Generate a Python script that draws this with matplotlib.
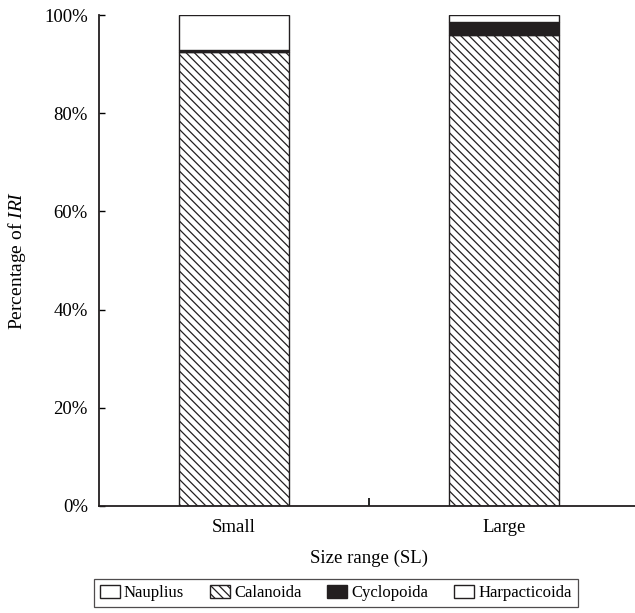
import matplotlib.pyplot as plt
from matplotlib.patches import Patch
import numpy as np

plt.rcParams['font.family'] = ['Liberation Serif', 'DejaVu Serif']
plt.rcParams['mathtext.fontset'] = 'custom'
plt.rcParams['mathtext.it'] = 'Liberation Serif:italic'
plt.rcParams['mathtext.rm'] = 'Liberation Serif'
plt.rcParams['hatch.linewidth'] = 0.9

# ------------- data (percent of IRI)
groups = ['Small', 'Large']
nauplius = [0.0, 0.0]
calanoida = [92.4, 96.0]
cyclopoida = [0.4, 2.5]
harpacticoida = [7.2, 1.5]

# ------------- figure
fig = plt.figure(figsize=(6.35, 6.13), dpi=100, facecolor='white')
ax = fig.add_axes([99 / 635, 1 - 506 / 613, 540 / 635, 491 / 613])

x = np.arange(len(groups))
w = 0.41
bottom = np.zeros(len(groups))
series = [
    (nauplius, dict(facecolor='white')),
    (calanoida, dict(facecolor='white', hatch='\\\\\\\\')),
    (cyclopoida, dict(facecolor='#231f20')),
    (harpacticoida, dict(facecolor='white')),
]
for vals, style in series:
    ax.bar(x, vals, w, bottom=bottom, edgecolor='#231f20', linewidth=1.0, **style)
    bottom += np.array(vals)

ax.set_xlim(-0.5, 1.5)
ax.set_ylim(0, 100)
ax.set_yticks(np.arange(0, 101, 20))
ax.set_yticklabels([f'{v}%' for v in range(0, 101, 20)])
ax.set_xticks(x)
ax.set_xticklabels(groups)
ax.set_xticks([0.5], minor=True)

ax.tick_params(axis='y', direction='in', length=4, width=1, labelsize=13.5, pad=8)
ax.tick_params(axis='x', which='major', length=0, labelsize=13.5, pad=9)
ax.tick_params(axis='x', which='minor', direction='in', length=6, width=1.2)

for s in ['top', 'right']:
    ax.spines[s].set_visible(False)
for s in ['left', 'bottom']:
    ax.spines[s].set_linewidth(1.3)
    ax.spines[s].set_color('#231f20')

ax.set_ylabel('Percentage of $\\mathit{IRI}$', fontsize=14)
ax.yaxis.set_label_coords(-0.132, 0.5)
ax.set_xlabel('Size range (SL)', fontsize=13.5)
ax.xaxis.set_label_coords(0.5, -0.088)

handles = [
    Patch(facecolor='white', edgecolor='#231f20', label='Nauplius'),
    Patch(facecolor='white', edgecolor='#231f20', hatch='\\\\\\\\', label='Calanoida'),
    Patch(facecolor='#231f20', edgecolor='#231f20', label='Cyclopoida'),
    Patch(facecolor='white', edgecolor='#231f20', label='Harpacticoida'),
]
leg = fig.legend(handles=handles, loc='upper left', bbox_to_anchor=(94 / 635, 1 - 579 / 613),
                 ncol=4, fontsize=12, frameon=True, fancybox=False,
                 handlelength=1.2, handleheight=0.8, handletextpad=0.25,
                 columnspacing=1.55, borderpad=0.35, borderaxespad=0)
leg.get_frame().set_edgecolor('#231f20')
leg.get_frame().set_linewidth(0.9)

fig.savefig('out.png', dpi=100, facecolor='white')
